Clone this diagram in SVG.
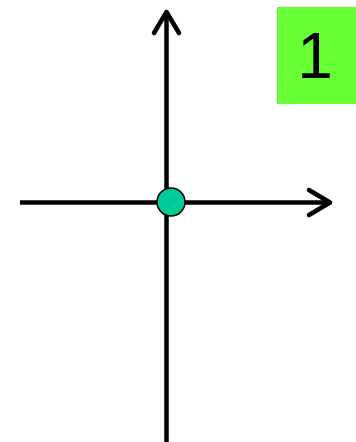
<svg xmlns="http://www.w3.org/2000/svg" width="356" height="442" viewBox="0 0 356 442">
<style>
.ax{stroke:#000;stroke-width:4.5;fill:none;stroke-linecap:round;stroke-linejoin:round}
.lbl{font-family:"Liberation Sans",Arial,sans-serif;font-size:64px;fill:#000}
</style>
<rect width="356" height="442" fill="#fff"/>
<g id="connectors">
<line class="ax" x1="166.5" y1="442" x2="166.5" y2="12" style="stroke-linecap:butt"/>
<polyline class="ax" points="154,33 166.5,12 179,33"/>
<line class="ax" x1="20" y1="202.5" x2="330" y2="202.5" style="stroke-linecap:butt"/>
<polyline class="ax" points="309,190 330,202.5 309,215"/>
</g>
<g id="origin">
<circle cx="171" cy="202" r="14" fill="#00CC99" stroke="#000" stroke-width="1.5"/>
</g>
<g id="label">
<rect x="277" y="7" width="79" height="97" fill="#66FF33"/>
<text class="lbl" x="315" y="78" text-anchor="middle">1</text>
</g>
</svg>
